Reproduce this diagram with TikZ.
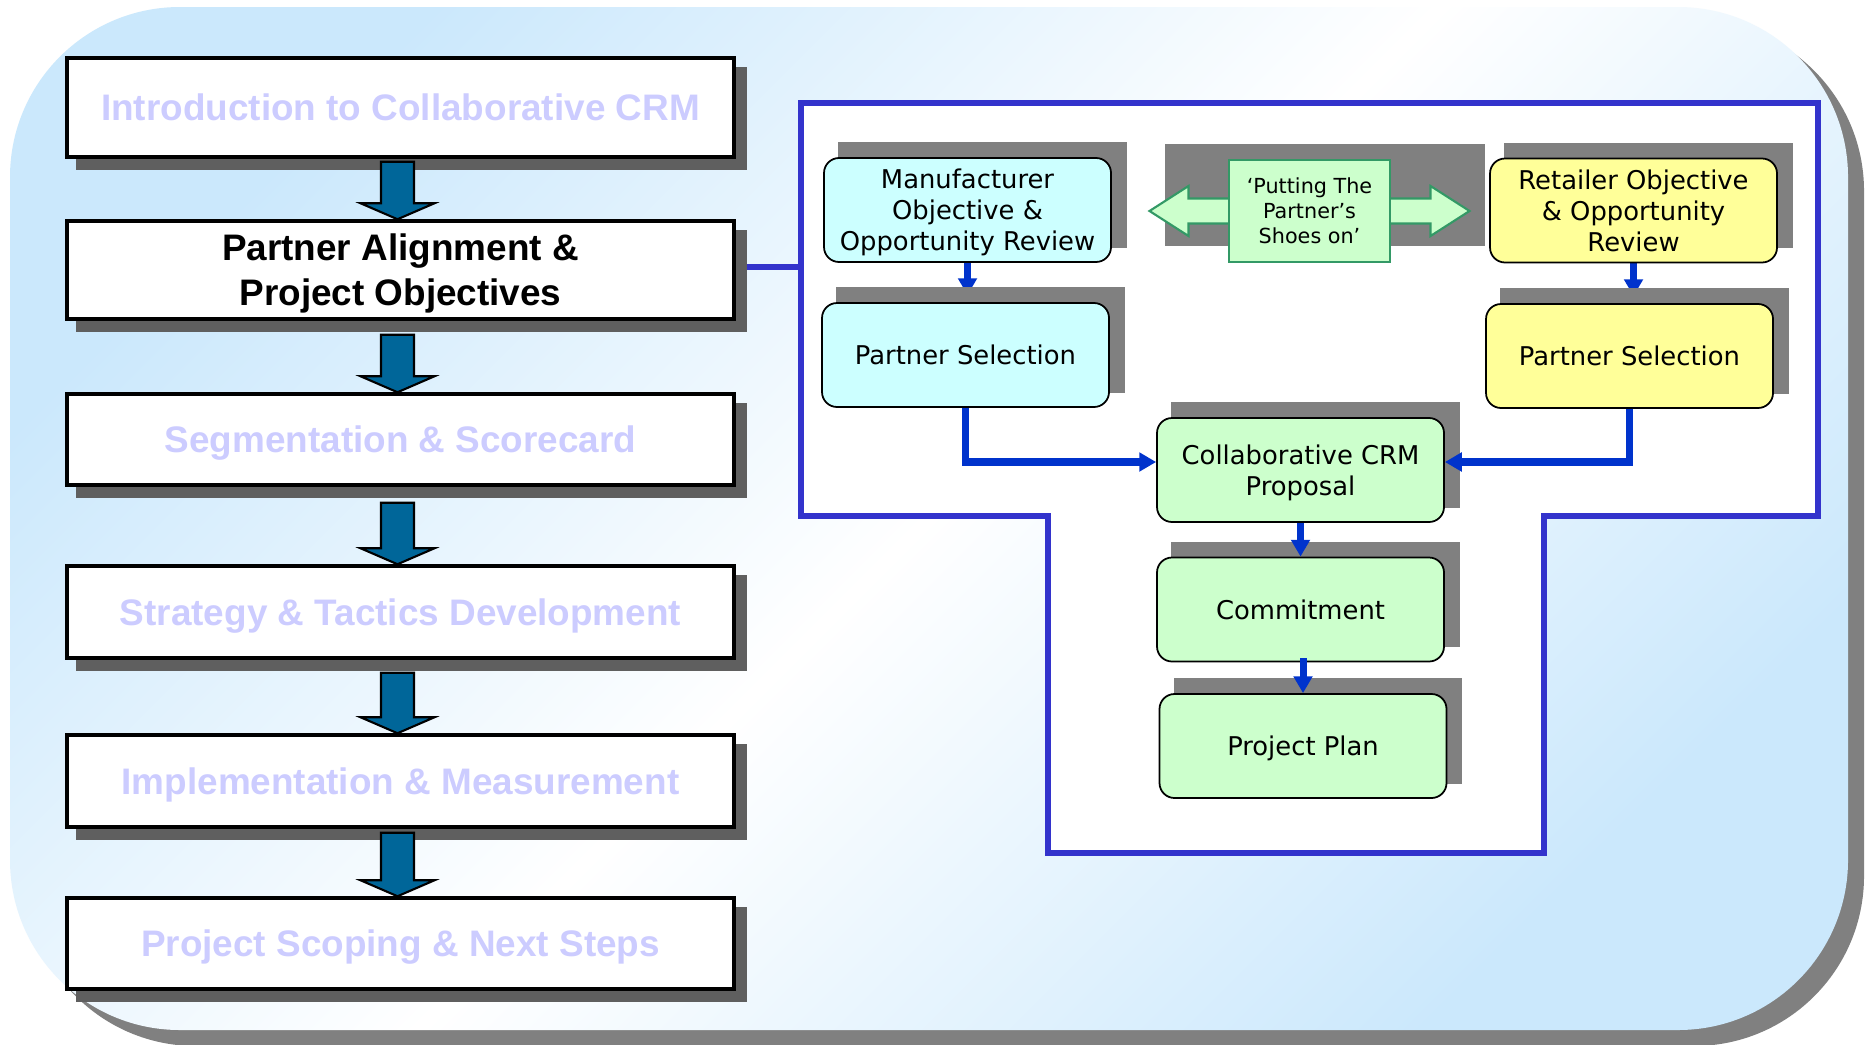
\documentclass[tikz,border=0pt]{standalone}
\usepackage{fontspec}
\setmainfont{Liberation Sans}
\newfontfamily\flowfont{DejaVu Sans}
\usetikzlibrary{calc,arrows.meta}

\definecolor{bgblue}{HTML}{CBE8FC}
\definecolor{stageblue}{HTML}{006699}
\definecolor{mutedtext}{HTML}{CCCCFF}
\definecolor{framecol}{HTML}{3333CC}
\definecolor{linkblue}{HTML}{0033CC}
\definecolor{mfrfill}{HTML}{CCFFFF}
\definecolor{retfill}{HTML}{FFFF99}
\definecolor{jointfill}{HTML}{CCFFCC}
\definecolor{shoeline}{HTML}{339966}
\definecolor{darkshadow}{HTML}{5F5F5F}
\definecolor{softshadow}{HTML}{808080}

\pgfdeclarelayer{back}
\pgfdeclarelayer{under}
\pgfdeclarelayer{shade}
\pgfdeclarelayer{mid}
\pgfsetlayers{back,under,shade,mid,main}

% block arrow between two stage boxes: #1 from, #2 to, #3 gap below #1
\newcommand{\stagearrow}[3]{%
  \draw[stagearrowstyle]
    ($(#1.south)+(-19.5,#3)$) -- ($(#1.south)+(13.5,#3)$)
    -- ($(#2.north)+(13.5,-16)$) -- ($(#2.north)+(34,-16)$)
    -- ($(#2.north)+(-3,0)$)
    -- ($(#2.north)+(-40,-16)$) -- ($(#2.north)+(-19.5,-16)$) -- cycle;}

\tikzset{
  stage/.style={draw=black, line width=1pt, fill=white, minimum width=66.7mm,
    inner sep=0pt, align=center, text=mutedtext, text depth=0pt,
    font=\bfseries\fontsize{10.5}{12.8}\selectfont},
  stagearrowstyle/.style={fill=stageblue, draw=black, line width=0.6pt, line join=miter},
  flowbox/.style={draw=black, line width=0.5pt, rounded corners=1.5mm,
    minimum width=28.7mm, minimum height=10.4mm, inner sep=0pt, align=center,
    text depth=0pt, font=\flowfont\fontsize{7.35}{8.8}\selectfont},
  conn/.style={draw=linkblue, line width=2pt, -{Triangle[length=4.8pt,width=5.2pt]}},
  frameline/.style={draw=framecol, line width=1.6pt}
}

\begin{document}
\begin{tikzpicture}[x=0.1mm,y=-0.1mm]
\useasboundingbox (0,0) rectangle (1870,1044);

% ---------- background panel and frame ----------
\begin{pgfonlayer}{back}
  \fill[white] (0,0) rectangle (1870,1044);
  \fill[softshadow, rounded corners=17mm] (26,21) rectangle (1864,1046);
  \shade[top color=bgblue, bottom color=bgblue, middle color=white,
         shading angle=45, rounded corners=17mm] (10,7) rectangle (1848,1030);
  \coordinate (frNW) at (801,103);
  \filldraw[fill=white, frameline] (frNW) -- (1818,103) -- (1818,516) -- (1544,516)
    -- (1544,853) -- (1048,853) -- (1048,516) -- (801,516) -- cycle;
\end{pgfonlayer}

% ---------- stage column ----------
\node[stage, minimum height=9.9mm] (s1) at (400.5,107.5) {Introduction to Collaborative CRM};
\node[stage, minimum height=9.8mm, text=black] (s2) at (400.5,270) {Partner Alignment \&\\Project Objectives};
\node[stage, minimum height=9.1mm] (s3) at (400.5,439.5) {Segmentation \& Scorecard};
\node[stage, minimum height=9.2mm] (s4) at (400.5,612) {Strategy \& Tactics Development};
\node[stage, minimum height=9.2mm] (s5) at (400.5,781) {Implementation \& Measurement};
\node[stage, minimum height=9.1mm] (s6) at (400.5,943.5) {Project Scoping \& Next Steps};

\begin{pgfonlayer}{shade}
  \foreach \s in {s1,s2,s3,s4,s5,s6}
    \fill[darkshadow] ($(\s.north west)+(11,11)$) rectangle ($(\s.south east)+(11,11)$);
\end{pgfonlayer}

\stagearrow{s1}{s2}{3}
\stagearrow{s2}{s3}{14}
\stagearrow{s3}{s4}{16}
\stagearrow{s4}{s5}{13}
\stagearrow{s5}{s6}{4}

\begin{pgfonlayer}{under}
  \draw[frameline, line width=1.5pt] ($(s2.east)+(0,-3)$) -- ($(s2.east -| frNW)+(0,-3)$);
\end{pgfonlayer}

% ---------- collaboration flow ----------
\node[flowbox, fill=mfrfill] (mfr) at (967.5,210) {Manufacturer\\Objective \&\\Opportunity Review};
\node[flowbox, fill=mfrfill] (ps1) at (965.5,355) {Partner Selection};
\node[flowbox, fill=retfill] (ret) at (1633.5,210.5) {Retailer Objective\\\& Opportunity\\Review};
\node[flowbox, fill=retfill] (ps2) at (1629.5,356) {Partner Selection};
\node[flowbox, fill=jointfill] (cp) at (1300.5,470) {Collaborative CRM\\Proposal};
\node[flowbox, fill=jointfill] (cm) at (1300.5,609.5) {Commitment};
\node[flowbox, fill=jointfill] (pp) at (1303,746) {Project Plan};

\node[draw=shoeline, line width=0.6pt, fill=jointfill, minimum width=16.1mm,
      minimum height=10.2mm, inner sep=0pt, align=center,
      font=\flowfont\fontsize{5.9}{7.1}\selectfont] (shoes) at (1309.5,211)
      {‘Putting The\\Partner’s\\Shoes on’};

\begin{pgfonlayer}{shade}
  \foreach \b in {mfr,ps1,ret,ps2,cp,cm,pp}
    \fill[softshadow] ($(\b.south west)+(15,-15)$) rectangle ($(\b.north east)+(15,-15)$);
  \begin{scope}[shift={(shoes.center)}]
    \fill[softshadow] (-145,-67) rectangle (175,35);
  \end{scope}
\end{pgfonlayer}

\begin{pgfonlayer}{mid}
  \begin{scope}[shift={(shoes.center)}]
    \filldraw[fill=jointfill, draw=shoeline, line width=0.6pt]
      (-160,0) -- (-121,-25) -- (-121,-12.5) -- (121,-12.5) -- (121,-25) -- (160,0)
      -- (121,25) -- (121,12.5) -- (-121,12.5) -- (-121,25) -- cycle;
  \end{scope}
\end{pgfonlayer}

\begin{pgfonlayer}{under}
  \draw[conn] (mfr.south) -- ($(mfr.south |- ps1.north)+(0,-7)$);
  \draw[conn] (ret.south) -- ($(ret.south |- ps2.north)+(0,-7)$);
\end{pgfonlayer}

\draw[conn] (ps1.south) |- ($(cp.west)+(0,-8)$);
\draw[conn] (ps2.south) |- ($(cp.east)+(0,-8)$);
\draw[conn] (cp.south) -- (cp.south |- cm.north);
\draw[conn] ($(cm.south -| pp.north)+(0,-4)$) -- (pp.north);

\end{tikzpicture}
\end{document}
